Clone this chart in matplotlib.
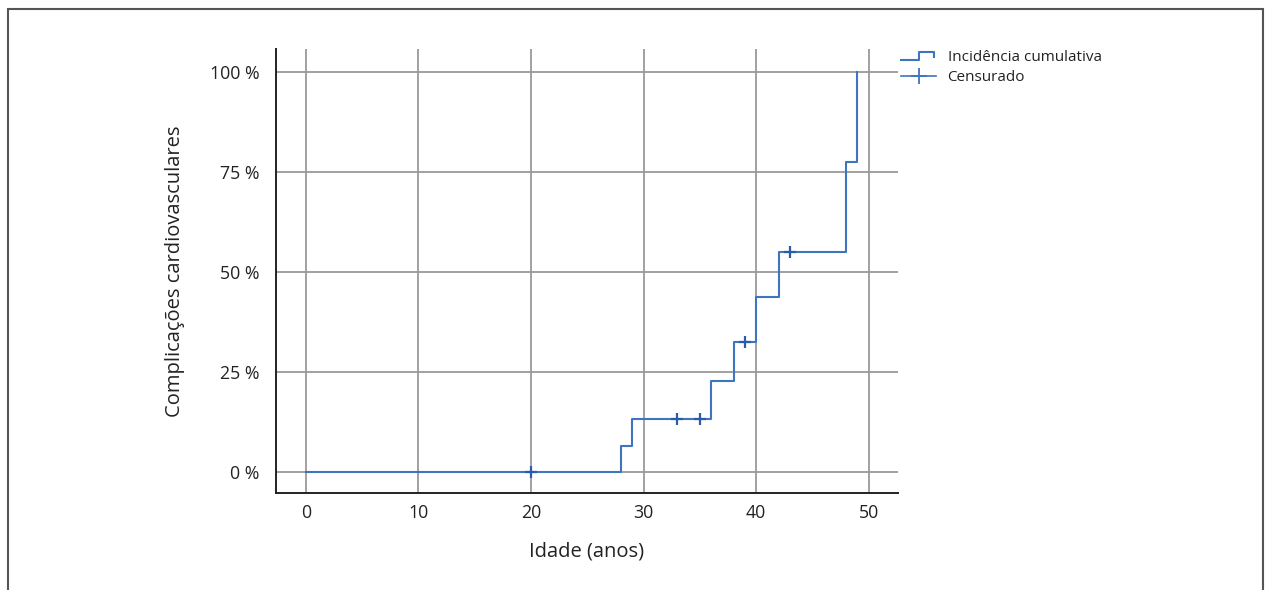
import matplotlib
matplotlib.use("Agg")
import matplotlib.pyplot as plt
from matplotlib.patches import Rectangle
from matplotlib.lines import Line2D
from matplotlib.legend_handler import HandlerBase

plt.rcParams['font.family'] = ['Open Sans', 'DejaVu Sans']

# Step data (age in years, cumulative incidence %)
event_ages = [0, 28, 29, 36, 38, 40, 42, 48, 49]
cum_incidence = [0, 6.5, 13.25, 22.8, 32.5, 43.8, 55.1, 77.5, 100]
censor_ages = [20, 33, 35, 39, 43]
censor_values = [0, 13.25, 13.25, 32.5, 55.1]
x_ticks = [0, 10, 20, 30, 40, 50]
y_ticks = [0, 25, 50, 75, 100]
y_ticklabels = ['0 %', '25 %', '50 %', '75 %', '100 %']

line_color = '#3f74be'
censor_color = '#2a5ca8'

W, H = 1269, 590
fig = plt.figure(figsize=(W / 100, H / 100), dpi=100)
ax = fig.add_axes([276 / W, 1 - 493 / H, (898 - 276) / W, (493 - 49) / H])

ax.set_xlim(-2.66, 52.6)
ax.set_ylim(-5.25, 105.75)

for xv in x_ticks:
    ax.axvline(xv, color='#9a9a9a', lw=1.3, zorder=0)
for yv in y_ticks:
    ax.axhline(yv, color='#9a9a9a', lw=1.3, zorder=0)

ax.step(event_ages, cum_incidence, where='post', color=line_color, lw=1.5, zorder=3)
ax.plot(censor_ages, censor_values, ls='none', marker='+', ms=8, mew=1.6,
        color=censor_color, zorder=4)

ax.set_xticks(x_ticks)
ax.set_yticks(y_ticks)
ax.set_yticklabels(y_ticklabels)
ax.tick_params(length=0, labelsize=12.8, colors='#222222', pad=12)
ax.tick_params(axis='x', pad=8)
for s in ['top', 'right']:
    ax.spines[s].set_visible(False)
for s in ['left', 'bottom']:
    ax.spines[s].set_color('#222222')
    ax.spines[s].set_linewidth(1.4)

ax.set_xlabel('Idade (anos)', fontsize=14.5, color='#222222', labelpad=14)
ax.set_ylabel('Complicações cardiovasculares', fontsize=14.5, color='#222222', labelpad=18)


class StepHandler(HandlerBase):
    def create_artists(self, legend, orig_handle, xdescent, ydescent, width, height, fontsize, trans):
        x0 = -xdescent
        y0 = -ydescent
        xs = [x0, x0 + width * 0.5, x0 + width * 0.5, x0 + width * 0.95, x0 + width * 0.95]
        ys = [y0 + height * 0.1, y0 + height * 0.1, y0 + height * 0.8, y0 + height * 0.8, y0 + height * 0.4]
        l = Line2D(xs, ys, color=line_color, lw=1.5, transform=trans)
        return [l]


step_handle = Line2D([], [], color=line_color)
censor_handle = Line2D([], [], color=line_color, lw=1.2, marker='+', ms=12, mew=1.3,
                       markeredgecolor=line_color)
leg = fig.legend([step_handle, censor_handle], ['Incidência cumulativa', 'Censurado'],
                 handler_map={step_handle: StepHandler()},
                 loc='upper left', bbox_to_anchor=(901 / W, 1 - 50 / H),
                 frameon=False, fontsize=11, handlelength=2.3, handletextpad=0.75,
                 labelspacing=0.35, borderaxespad=0, borderpad=0)
for t in leg.get_texts():
    t.set_color('#222222')

fig.add_artist(Rectangle((8 / W, -0.1), (1263 - 8) / W, 1.1 - 9 / H,
                         transform=fig.transFigure, fill=False,
                         edgecolor='#555555', lw=1.5, clip_on=False))

fig.savefig('out.png', dpi=100)
